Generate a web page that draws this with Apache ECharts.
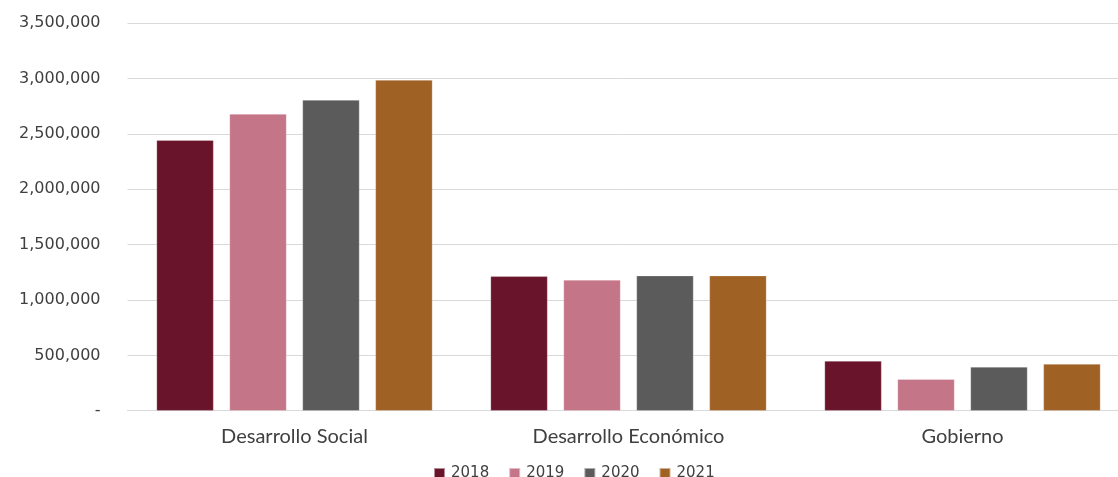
<!DOCTYPE html>
<html>
<head>
<meta charset="utf-8">
<script src="https://cdn.jsdelivr.net/npm/echarts@6/dist/echarts.min.js"></script>
<style>
  html, body { margin: 0; padding: 0; background: #ffffff; }
  #chart { width: 1118px; height: 477px; }
</style>
</head>
<body>
<div id="chart"></div>
<script>
// Sectors (categories on the x axis)
const categories = ['Desarrollo Social', 'Desarrollo Económico', 'Gobierno'];
// Years shown in the legend
const years = ['2018', '2019', '2020', '2021'];
// Amounts per sector for each year
const values2018 = [2443000, 1214000, 449000];
const values2019 = [2680000, 1181000, 284000];
const values2020 = [2807000, 1220000, 395000];
const values2021 = [2987000, 1220000, 422000];
// Y-axis ticks
const yTicks = [0, 500000, 1000000, 1500000, 2000000, 2500000, 3000000, 3500000];

const seriesValues = [values2018, values2019, values2020, values2021];
const colors = ['#69142B', '#C47588', '#5B5B5B', '#A06125'];

const fmt = v => v === 0 ? '-' : v.toLocaleString('en-US');

const chart = echarts.init(document.getElementById('chart'), null, { renderer: 'canvas' });
chart.setOption({
  animation: false,
  color: colors,
  textStyle: { fontFamily: 'Lato, sans-serif', color: '#404040' },
  // plot area runs a little past the right edge of the canvas
  grid: {
    left: 127.5, width: 1002, top: 23.3, bottom: 66.3,
    containLabel: false, outerBoundsMode: 'none'
  },
  legend: {
    top: 461,
    left: 428,
    itemWidth: 11,
    itemHeight: 11,
    itemGap: 19,
    icon: 'rect',
    textStyle: { fontFamily: '"DejaVu Sans", sans-serif', fontSize: 15, color: '#404040', padding: [0, 0, 0, 1] },
    data: years
  },
  xAxis: {
    type: 'category',
    data: categories,
    axisTick: { show: false },
    axisLine: { lineStyle: { color: '#d9d9d9' } },
    axisLabel: { fontFamily: 'Lato, sans-serif', fontSize: 20, color: '#404040', margin: 16 }
  },
  yAxis: {
    type: 'value',
    min: yTicks[0],
    max: yTicks[yTicks.length - 1],
    interval: yTicks[1] - yTicks[0],
    axisLine: { show: false },
    axisTick: { show: false },
    splitLine: { lineStyle: { color: '#d9d9d9', width: 1 } },
    axisLabel: {
      formatter: fmt,
      fontFamily: '"DejaVu Sans", sans-serif',
      fontSize: 16,
      color: '#404040',
      margin: 27
    }
  },
  series: years.map((y, i) => ({
    name: y,
    type: 'bar',
    data: seriesValues[i],
    barWidth: 57,
    barGap: '28%',
    itemStyle: { borderColor: 'rgba(255,255,255,0.5)', borderWidth: 0.5 }
  }))
});
</script>
</body>
</html>
